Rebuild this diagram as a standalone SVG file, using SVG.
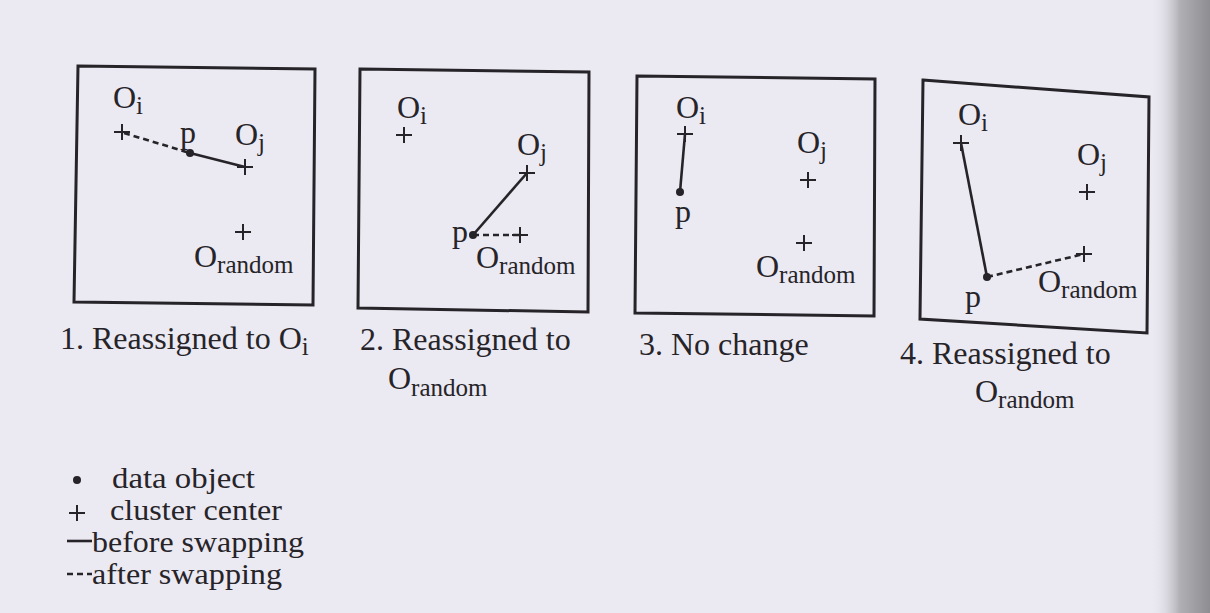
<svg xmlns="http://www.w3.org/2000/svg" width="1210" height="613" viewBox="0 0 1210 613">
<defs>
<linearGradient id="shadow" x1="0" y1="0" x2="1" y2="0">
<stop offset="0" stop-color="#ebe9f2" stop-opacity="0"/>
<stop offset="0.5" stop-color="#b0afb4"/>
<stop offset="1" stop-color="#8e8d92"/>
</linearGradient>
<g id="plus"><line x1="-8" y1="0" x2="8" y2="0"/><line x1="0" y1="-8" x2="0" y2="8"/></g>
</defs>
<style>
text{font-family:"Liberation Serif","Times New Roman",serif;font-size:32px;fill:#262428}
.sub{font-size:25px}
.leg{font-size:29px}
.box{fill:none;stroke:#262428;stroke-width:3}
.pl{stroke:#262428;stroke-width:2}
.solid{stroke:#262428;stroke-width:2.6;fill:none}
.dash{stroke:#262428;stroke-width:2.6;fill:none;stroke-dasharray:6 4}
.dot{fill:#262428}
</style>
<rect width="1210" height="613" fill="#ebe9f2"/>
<rect x="1150" y="0" width="60" height="613" fill="url(#shadow)"/>

<g id="connectors">
<line class="dash" x1="124" y1="133" x2="190" y2="153"/>
<line class="solid" x1="190" y1="153" x2="245" y2="167"/>
<line class="solid" x1="473" y1="235" x2="527" y2="173"/>
<line class="dash" x1="473" y1="235" x2="520" y2="235"/>
<line class="solid" x1="685" y1="134" x2="680" y2="192"/>
<line class="solid" x1="961" y1="143" x2="987" y2="277"/>
<line class="dash" x1="987" y1="277" x2="1084" y2="254"/>
</g>

<g id="panel1">
<polygon class="box" points="78,66 315,69 313,305 74,302"/>
<text x="113" y="108">O<tspan class="sub" dy="6">i</tspan></text>
<use href="#plus" class="pl" x="122" y="132"/>
<text x="180" y="143">p</text>
<circle class="dot" cx="190" cy="153" r="4"/>
<text x="235" y="145">O<tspan class="sub" dy="6">j</tspan></text>
<use href="#plus" class="pl" x="245" y="167"/>
<use href="#plus" class="pl" x="243" y="232"/>
<text x="194" y="267">O<tspan class="sub" dy="6">random</tspan></text>
<text x="60" y="349">1. Reassigned to O<tspan class="sub" dy="6">i</tspan></text>
</g>

<g id="panel2">
<polygon class="box" points="360,69 589,72 588,312 358,308"/>
<text x="397" y="118">O<tspan class="sub" dy="6">i</tspan></text>
<use href="#plus" class="pl" x="404" y="135"/>
<text x="517" y="155">O<tspan class="sub" dy="6">j</tspan></text>
<use href="#plus" class="pl" x="527" y="173"/>
<circle class="dot" cx="473" cy="235" r="4"/>
<text x="452" y="242">p</text>
<use href="#plus" class="pl" x="520" y="235"/>
<text x="476" y="268">O<tspan class="sub" dy="6">random</tspan></text>
<text x="360" y="350">2. Reassigned to</text>
<text x="388" y="389">O<tspan class="sub" dy="7">random</tspan></text>
</g>

<g id="panel3">
<polygon class="box" points="637,76 875,79 874,316 635,313"/>
<text x="676" y="118">O<tspan class="sub" dy="6">i</tspan></text>
<use href="#plus" class="pl" x="685" y="134"/>
<circle class="dot" cx="680" cy="192" r="4"/>
<text x="675" y="222">p</text>
<text x="797" y="153">O<tspan class="sub" dy="6">j</tspan></text>
<use href="#plus" class="pl" x="808" y="180"/>
<use href="#plus" class="pl" x="804" y="243"/>
<text x="756" y="277">O<tspan class="sub" dy="6">random</tspan></text>
<text x="639" y="355">3. No change</text>
</g>

<g id="panel4">
<polygon class="box" points="923,80 1149,97 1147,333 920,319"/>
<text x="958" y="125">O<tspan class="sub" dy="6">i</tspan></text>
<use href="#plus" class="pl" x="961" y="143"/>
<circle class="dot" cx="987" cy="277" r="4"/>
<text x="965" y="307">p</text>
<use href="#plus" class="pl" x="1084" y="254"/>
<text x="1038" y="292">O<tspan class="sub" dy="6">random</tspan></text>
<text x="1077" y="165">O<tspan class="sub" dy="6">j</tspan></text>
<use href="#plus" class="pl" x="1087" y="192"/>
<text x="900" y="364">4. Reassigned to</text>
<text x="975" y="402">O<tspan class="sub" dy="6">random</tspan></text>
</g>

<g id="legend">
<circle class="dot" cx="77" cy="480" r="4"/>
<text class="leg" x="112" y="488" textLength="143" lengthAdjust="spacingAndGlyphs">data object</text>
<use href="#plus" class="pl" x="77" y="513"/>
<text class="leg" x="110" y="520" textLength="172" lengthAdjust="spacingAndGlyphs">cluster center</text>
<line class="solid" x1="67" y1="541" x2="92" y2="541"/>
<text class="leg" x="92" y="552" textLength="212" lengthAdjust="spacingAndGlyphs">before swapping</text>
<line class="dash" x1="67" y1="574" x2="92" y2="574" stroke-dasharray="5 4"/>
<text class="leg" x="92" y="584" textLength="190" lengthAdjust="spacingAndGlyphs">after swapping</text>
</g>
</svg>
